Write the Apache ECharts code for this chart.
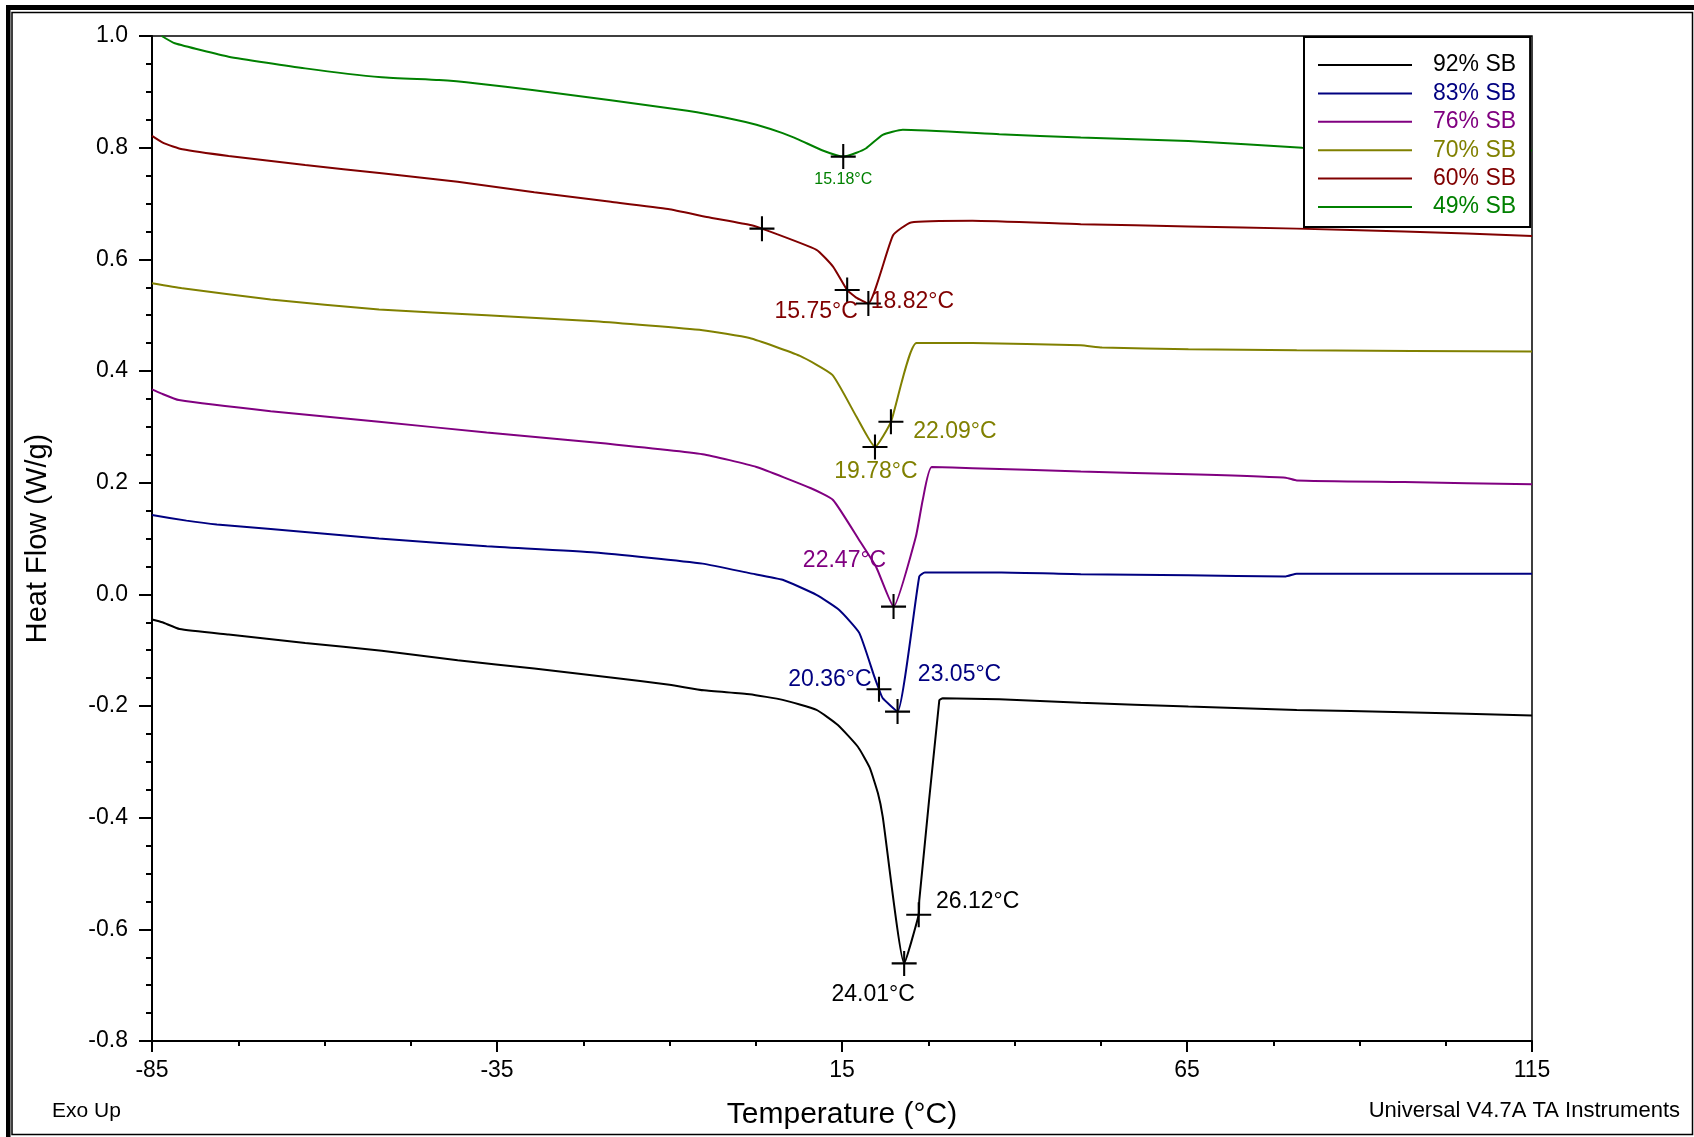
<!DOCTYPE html>
<html>
<head>
<meta charset="utf-8">
<script src="https://cdn.jsdelivr.net/npm/echarts@6/dist/echarts.min.js"></script>
<style>
html,body{margin:0;padding:0;background:#fff;}
#c{width:1694px;height:1137px;}
</style>
</head>
<body>
<div id="c"></div>
<script>
// ---- data ----
const seriesNames = ['92% SB','83% SB','76% SB','70% SB','60% SB','49% SB'];

const temp92 = [-85,-83.5,-81,-73.9,-62.8,-51.7,-40.7,-29.6,-18.5,-10,-5,1.6,6.4,11.3,14.4,17.3,19,20.2,20.9,24.01,26.12,26.2,29.1,29.6,37.8,49.6,65.2,80.9,96.5,115];
const hf92   = [-0.045,-0.05,-0.062,-0.072,-0.087,-0.101,-0.118,-0.133,-0.149,-0.162,-0.172,-0.179,-0.189,-0.207,-0.234,-0.273,-0.31,-0.356,-0.398,-0.661,-0.574,-0.548,-0.19,-0.186,-0.188,-0.194,-0.201,-0.207,-0.211,-0.217];

const temp83 = [-85,-80,-75.6,-67.8,-52.1,-36.5,-20.8,-5.2,1.6,6.4,11.3,14.6,17.5,19.7,20.36,20.9,23.05,26.2,27,38.1,49.6,65.2,79.3,80.9,96.5,115];
const hf83   = [0.142,0.132,0.125,0.117,0.1,0.086,0.075,0.055,0.038,0.026,-0.001,-0.028,-0.069,-0.148,-0.17,-0.186,-0.21,0.032,0.039,0.039,0.036,0.034,0.032,0.037,0.037,0.037];

const temp76 = [-85,-83.7,-81.1,-67.8,-52.1,-36.5,-20.8,-5.2,2.6,10.5,13.7,17.5,19.95,22.47,25.7,26.7,28,33.9,49.6,65.2,79.3,80.9,96.5,115];
const hf76   = [0.367,0.36,0.348,0.328,0.309,0.29,0.272,0.251,0.228,0.19,0.169,0.097,0.049,-0.022,0.103,0.169,0.228,0.226,0.22,0.215,0.209,0.204,0.201,0.197];

const temp70 = [-85,-80.6,-67.8,-52.1,-36.5,-20.8,-5.2,1.6,8.9,13.6,17.1,19.78,22.09,25.8,33.9,49.6,52.7,65.2,80.9,115];
const hf70   = [0.557,0.548,0.528,0.51,0.5,0.489,0.473,0.459,0.427,0.393,0.318,0.264,0.309,0.45,0.45,0.446,0.442,0.439,0.437,0.435];

const temp60 = [-85,-83.3,-80.6,-73.9,-62.8,-51.7,-40.7,-29.6,-18.5,-10.2,-4.6,1.9,3.4,11.3,13.7,15.75,17,18.82,22.4,25,33.9,49.6,65.2,80.9,96.5,115];
const hf60   = [0.821,0.808,0.797,0.785,0.769,0.754,0.739,0.72,0.703,0.69,0.676,0.661,0.655,0.617,0.587,0.545,0.532,0.521,0.643,0.666,0.669,0.663,0.659,0.655,0.65,0.642];

const temp49 = [-83.6,-81.7,-73.9,-62.8,-51.7,-43.4,-37.9,-29.6,-18.5,-7.4,-0.8,2.6,6.4,8.8,12.2,15.18,17.1,18.5,20.9,23.8,37.8,49.6,65.2,81.7,96.5,115];
const hf49   = [1.0,0.987,0.963,0.942,0.926,0.921,0.915,0.903,0.885,0.866,0.851,0.841,0.826,0.814,0.795,0.784,0.791,0.799,0.823,0.832,0.824,0.818,0.812,0.8,0.797,0.795];

// analysis marks (crosses) and their labels
const markTemp   = [15.18, 3.4, 15.75, 18.82, 19.78, 22.09, 22.47, 20.36, 23.05, 24.01, 26.12];
const markVal    = [0.784, 0.655, 0.545, 0.521, 0.264, 0.309, -0.022, -0.17, -0.21, -0.661, -0.574];
const markText   = ['15.18°C','','15.75°C','18.82°C','19.78°C','22.09°C','22.47°C','20.36°C','23.05°C','24.01°C','26.12°C'];
const markSeries = [5, 4, 4, 4, 3, 3, 2, 1, 1, 0, 0];

const xTicks = [-85, -35, 15, 65, 115];
const yTicks = [-0.8, -0.6, -0.4, -0.2, 0.0, 0.2, 0.4, 0.6, 0.8, 1.0];

// ---- styling ----
const colors = ['#000000','#000080','#800080','#808000','#800000','#008000'];
const FONT = '"Liberation Sans", Arial, Helvetica, sans-serif';
const labelOffsets = [[0,23],[0,0],[-31,22],[44,-2],[1,25],[64,10],[-49,-46],[-49,-10],[62,-37],[-31,31],[59,-13]];
const labelSizes   = [16,23,23,23,23,23,23,23,23,23,23];

const temps = [temp92, temp83, temp76, temp70, temp60, temp49];
const hfs   = [hf92, hf83, hf76, hf70, hf60, hf49];

function zip(a, b){ return a.map((t,i)=>[t,b[i]]); }

const lineSeries = seriesNames.map((name, i) => ({
  name: name,
  type: 'line',
  data: zip(temps[i], hfs[i]),
  showSymbol: false,
  symbol: 'none',
  smooth: 0.15,
  lineStyle: {color: colors[i], width: 2},
  itemStyle: {color: colors[i]},
  z: 2,
  animation: false
}));

const marksData = markTemp.map((t, i) => ({
  value: [t, markVal[i]],
  label: {
    show: markText[i] !== '',
    formatter: markText[i],
    position: 'inside',
    offset: labelOffsets[i],
    color: colors[markSeries[i]],
    fontSize: labelSizes[i],
    fontFamily: FONT,
    align: 'center',
    verticalAlign: 'middle'
  }
}));

const minorX = [];
for (let i = 0; i < xTicks.length - 1; i++) {
  const step = (xTicks[i+1] - xTicks[i]) / 4;
  for (let k = 1; k < 4; k++) minorX.push(xTicks[i] + k * step);
}

const chart = echarts.init(document.getElementById('c'), null, {renderer: 'canvas'});
const option = {
  backgroundColor: '#ffffff',
  animation: false,
  grid: {
    left: 152, right: 162, top: 36, bottom: 96,
    show: true, borderColor: '#000', borderWidth: 1.5, backgroundColor: 'transparent'
  },
  legend: {
    orient: 'vertical',
    left: 1304, top: 37,
    padding: [15, 14, 7, 14],
    itemWidth: 94, itemHeight: 2, itemGap: 2.4,
    icon: 'rect',
    backgroundColor: '#ffffff',
    borderColor: '#000', borderWidth: 2,
    textStyle: {fontSize: 23, fontFamily: FONT, lineHeight: 26, padding: [0,0,0,16]},
    data: seriesNames.map((n, i) => ({name: n, textStyle: {color: colors[i]}})),
    z: 10
  },
  xAxis: [{
    type: 'value',
    min: -85, max: 115,
    splitLine: {show: false},
    axisLine: {show: true, onZero: false, lineStyle: {color: '#000', width: 2}},
    axisTick: {show: true, inside: false, length: 11, lineStyle: {color: '#000', width: 2}, customValues: xTicks},
    axisLabel: {show: true, margin: 18, color: '#000', fontSize: 23, fontFamily: FONT, customValues: xTicks,
      formatter: v => String(Math.round(v))},
    minorTick: {show: false},
    name: 'Temperature (°C)',
    nameLocation: 'middle',
    nameGap: 59,
    nameTextStyle: {fontSize: 30, fontFamily: FONT, color: '#000', verticalAlign: 'top'}
  }, {
    type: 'value',
    gridIndex: 0,
    position: 'bottom',
    offset: 0,
    min: -85, max: 115,
    splitLine: {show: false},
    axisLine: {show: false, onZero: false},
    axisTick: {show: true, length: 5, lineStyle: {color: '#000', width: 2}, customValues: minorX},
    axisLabel: {show: false, customValues: minorX}
  }],
  yAxis: {
    type: 'value',
    min: -0.8, max: 1.0, interval: 0.2,
    splitLine: {show: false},
    axisLine: {show: true, onZero: false, lineStyle: {color: '#000', width: 2}},
    axisTick: {show: true, length: 13, lineStyle: {color: '#000', width: 2}},
    minorTick: {show: true, splitNumber: 4, length: 6, lineStyle: {color: '#000', width: 2}},
    axisLabel: {margin: 24, color: '#000', fontSize: 23, fontFamily: FONT,
      formatter: v => (Math.abs(v) < 1e-9 ? 0 : v).toFixed(1)},
    name: 'Heat Flow (W/g)',
    nameLocation: 'middle',
    nameGap: 100,
    nameTextStyle: {fontSize: 29, fontFamily: FONT, color: '#000'}
  },
  series: lineSeries.concat([{
    name: 'marks',
    type: 'scatter',
    xAxisIndex: 0,
    data: marksData,
    symbol: 'path://M11,0H13V24H11ZM0,11H24V13H0Z',
    symbolSize: 25,
    itemStyle: {color: '#000', opacity: 1},
    silent: true,
    z: 3
  }]),
  graphic: [
    {type: 'rect', shape: {x: 6, y: 5, width: 4.5, height: 1132}, style: {fill: '#000'}, silent: true},
    {type: 'rect', shape: {x: 6, y: 5, width: 1688, height: 5}, style: {fill: '#000'}, silent: true},
    {type: 'rect', shape: {x: 12, y: 12.5, width: 1680.5, height: 1122}, style: {fill: 'none', stroke: '#000', lineWidth: 1.5}, silent: true},
    {type: 'text', left: 52, top: 1101, style: {text: 'Exo Up', fontSize: 21, fontFamily: FONT, fill: '#000'}, silent: true},
    {type: 'text', right: 14, top: 1100, style: {text: 'Universal V4.7A TA Instruments', fontSize: 22, fontFamily: FONT, fill: '#000'}, silent: true}
  ]
};
chart.setOption(option);
</script>
</body>
</html>
